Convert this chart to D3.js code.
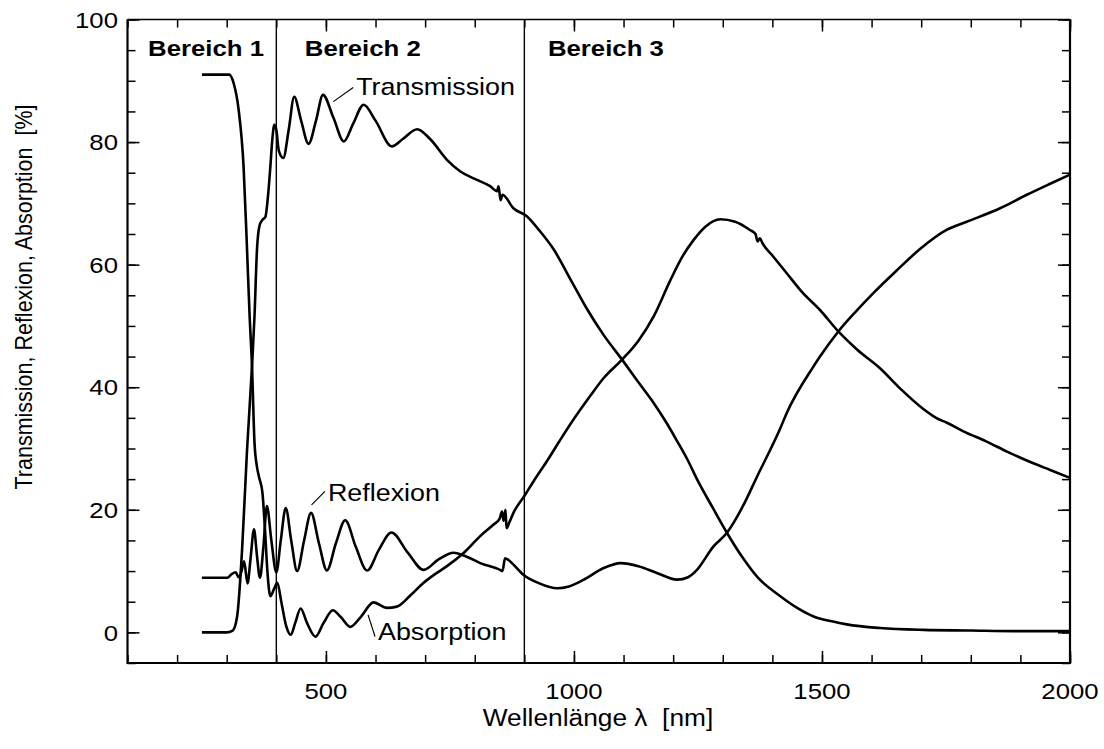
<!DOCTYPE html>
<html><head><meta charset="utf-8">
<script src="https://cdn.jsdelivr.net/npm/d3@7"></script>
<style>body{margin:0;background:#fff}text{font-family:"Liberation Sans",Arial,sans-serif;white-space:pre}</style>
</head><body>
<svg id="chart" width="1104" height="749"></svg>
<script>
// wavelength [nm], percent
const transmission = [[250,0],[300,0],[312,0.3],[321,2.6],[331,13.5],[341,29.8],[351,43.4],[356,51.5],[361,62.4],[366,66.3],[372,67.3],[378,67.8],[383,71],[388,76],[392,80.5],[396,82.8],[400,82],[405,78.6],[414,77.4],[425,82],[436,87.4],[450,83.5],[465,79.7],[480,83.5],[494,87.7],[515,84],[536,80.1],[555,83],[576,86.1],[600,83.5],[633,79.3],[655,80.5],[684,82.1],[710,80.5],[744,77.1],[771,75.2],[800,74],[831,72.8],[845,72],[848,72.8],[852,70.5],[856,71.4],[878,69.2],[905,67.9],[930,65.6],[959,62.5],[993,57.6],[1026,52.8],[1060,48.5],[1097,44.5],[1130,40.8],[1161,37.4],[1185,34.4],[1208,31.2],[1230,28],[1248,25],[1280,20.3],[1308,16.3],[1340,12.2],[1370,9],[1416,5.9],[1450,4],[1483,2.6],[1520,1.8],[1550,1.3],[1617,0.7],[1705,0.4],[1800,0.3],[1885,0.2],[2000,0.2]];
const reflexion = [[250,8.9],[301,8.9],[310,9.5],[318,9.8],[324,9.0],[330,10],[335,11.6],[342,8.0],[348,12],[355,16.8],[361,12.5],[367,8.9],[374,14],[381,20.6],[390,15],[400,9.8],[409,15],[419,20.3],[430,15],[442,10],[456,15],[470,19.5],[486,14.5],[502,10.1],[520,14.5],[539,18.3],[560,14],[583,10.1],[607,13.5],[632,16.3],[665,13],[697,10.2],[727,11.9],[757,13],[785,12.3],[811,11.3],[851,10.2],[856,10],[861,12.1],[868,11.8],[875,11.3],[898,9.4],[930,8],[966,7.2],[990,7.5],[1020,8.6],[1060,10.5],[1094,11.3],[1130,10.8],[1167,9.7],[1208,8.6],[1230,9],[1248,10.2],[1281,14],[1308,16.2],[1340,20.5],[1369,25.4],[1416,33.3],[1429,35.8],[1483,43.4],[1496,45],[1533,49.1],[1570,52.5],[1604,55.4],[1650,59],[1697,62.5],[1752,65.7],[1792,67],[1859,69.2],[1913,71.4],[1960,73.2],[2000,74.7]];
const absorption = [[250,91],[305,91],[314,89.6],[324,85.3],[334,76],[341,62.4],[346,52],[351,43.4],[356,31],[361,27],[365,25.4],[372,22.8],[377,17],[382,10],[388,5.9],[395,7.0],[402,8.1],[410,5],[420,1],[429,-0.4],[438,1.5],[449,3.9],[462,1.5],[479,-0.7],[495,1.5],[514,3.6],[530,2.5],[549,0.9],[570,2.5],[596,4.9],[623,4.0],[643,4.2],[670,6],[697,8.1],[720,9.5],[744,10.8],[778,13],[811,15.7],[838,17.6],[850,18.5],[855,19.7],[858,18.2],[862,20],[864,17],[870,18],[878,19.5],[902,22.5],[919,24.7],[946,28],[970,31.1],[993,34.0],[1033,38.6],[1060,41.5],[1097,44.5],[1130,47.6],[1161,51.6],[1194,57.4],[1220,61.5],[1241,64],[1265,66.2],[1295,67.4],[1325,67],[1354,65.7],[1366,65],[1370,63.8],[1375,64.3],[1380,63.5],[1400,61.5],[1429,58.6],[1460,55.5],[1496,52.6],[1533,49.1],[1570,46.2],[1617,43.1],[1660,39.6],[1705,36.4],[1730,35],[1752,34.2],[1785,32.8],[1830,31.2],[1873,29.5],[1926,27.6],[1960,26.5],[2000,25.2]];
const xTickLabels = [500,1000,1500,2000];
const yTickLabels = [0,20,40,60,80,100];
const regionBounds = [400,900];
const regionNames = ["Bereich 1","Bereich 2","Bereich 3"];
const seriesNames = ["Transmission","Reflexion","Absorption"];

const svg = d3.select("#chart");
const SX = 1.12;
const x = d3.scaleLinear().domain([100,2000]).range([127.5,1070]);
const y = d3.scaleLinear().domain([-5,100]).range([663,19.5]);

function stext(px, py, str, o={}){
  const g = svg.append("g").attr("transform",`translate(${px},${py}) scale(${SX},1)${o.rot?' rotate(-90)':''}`);
  return g.append("text").text(str)
    .attr("font-size",o.size||23)
    .attr("font-weight",o.bold?"bold":"normal")
    .attr("text-anchor",o.anchor||"start")
    .attr("dy",o.dy||0)
    .attr("fill","#000");
}

// ticks (inward)
const minorX = d3.range(100,2001,100), majorX = d3.range(500,2001,500);
const minorY = d3.range(-5,101,5), majorY = d3.range(0,101,20);
function tickStyle(g){ g.select(".domain").remove(); g.selectAll("line").attr("stroke","#000").attr("stroke-width",1.5); g.selectAll("text").remove(); }
svg.append("g").attr("transform",`translate(0,${y(-5)})`).call(d3.axisBottom(x).tickValues(minorX).tickSize(-8)).call(tickStyle);
svg.append("g").attr("transform",`translate(0,${y(-5)})`).call(d3.axisBottom(x).tickValues(majorX).tickSize(-12)).call(tickStyle);
svg.append("g").attr("transform",`translate(0,${y(100)})`).call(d3.axisTop(x).tickValues(minorX).tickSize(-8)).call(tickStyle);
svg.append("g").attr("transform",`translate(0,${y(100)})`).call(d3.axisTop(x).tickValues(majorX).tickSize(-12)).call(tickStyle);
svg.append("g").attr("transform",`translate(${x(100)},0)`).call(d3.axisLeft(y).tickValues(minorY).tickSize(-8)).call(tickStyle);
svg.append("g").attr("transform",`translate(${x(100)},0)`).call(d3.axisLeft(y).tickValues(majorY).tickSize(-12)).call(tickStyle);
svg.append("g").attr("transform",`translate(${x(2000)},0)`).call(d3.axisRight(y).tickValues(minorY).tickSize(-8)).call(tickStyle);
svg.append("g").attr("transform",`translate(${x(2000)},0)`).call(d3.axisRight(y).tickValues(majorY).tickSize(-12)).call(tickStyle);

// frame
const fr = svg.append("g").attr("stroke","#000").attr("fill","none");
fr.append("line").attr("x1",x(100)).attr("x2",x(2000)).attr("y1",y(100)).attr("y2",y(100)).attr("stroke-width",1.5);
fr.append("line").attr("x1",x(100)).attr("x2",x(2000)).attr("y1",y(-5)).attr("y2",y(-5)).attr("stroke-width",2.2);
fr.append("line").attr("x1",x(100)).attr("x2",x(100)).attr("y1",y(100)).attr("y2",y(-5)+1).attr("stroke-width",2.2);
fr.append("line").attr("x1",x(2000)).attr("x2",x(2000)).attr("y1",y(100)).attr("y2",y(-5)+1).attr("stroke-width",2.2);

// region separators
regionBounds.forEach(b=>{
  svg.append("line").attr("x1",x(b)).attr("x2",x(b)).attr("y1",y(100)).attr("y2",y(-5)).attr("stroke","#000").attr("stroke-width",1.4);
});

// curves
const line = d3.line().x(d=>x(d[0])).y(d=>y(d[1])).curve(d3.curveMonotoneX);
[transmission,reflexion,absorption].forEach(s=>{
  svg.append("path").datum(s).attr("d",line).attr("fill","none").attr("stroke","#000").attr("stroke-width",2.6).attr("stroke-linejoin","round");
});

// tick labels
yTickLabels.forEach(v=> stext(118, y(v), String(v), {anchor:"end", dy:"0.36em"}));
xTickLabels.forEach(v=> stext(x(v), 699, String(v), {anchor:"middle"}));

// axis titles
stext(598, 726, "Wellenlänge λ  [nm]", {anchor:"middle", size:23.5});
stext(32, 297, "Transmission, Reflexion, Absorption  [%]", {anchor:"middle", size:21.5, rot:true});

// region labels
const regionStarts = [141.5, 457.5, 947.5];
regionNames.forEach((n,i)=> stext(x(regionStarts[i]), y(94.1), n, {bold:true, size:23}));

// series annotations with leader lines
const ann = [
  {name:seriesNames[0], from:[515,86.6], to:[555,88.9], text:[561,87.7]},
  {name:seriesNames[1], from:[471,20.8], to:[498,23.0], text:[504,21.5]},
  {name:seriesNames[2], from:[585,2.85], to:[599,-0.7], text:[605,-1.25]}
];
ann.forEach(a=>{
  svg.append("line").attr("x1",x(a.from[0])).attr("y1",y(a.from[1])).attr("x2",x(a.to[0])).attr("y2",y(a.to[1])).attr("stroke","#000").attr("stroke-width",1.2);
  stext(x(a.text[0]), y(a.text[1]), a.name, {size:24});
});
</script>
</body></html>
